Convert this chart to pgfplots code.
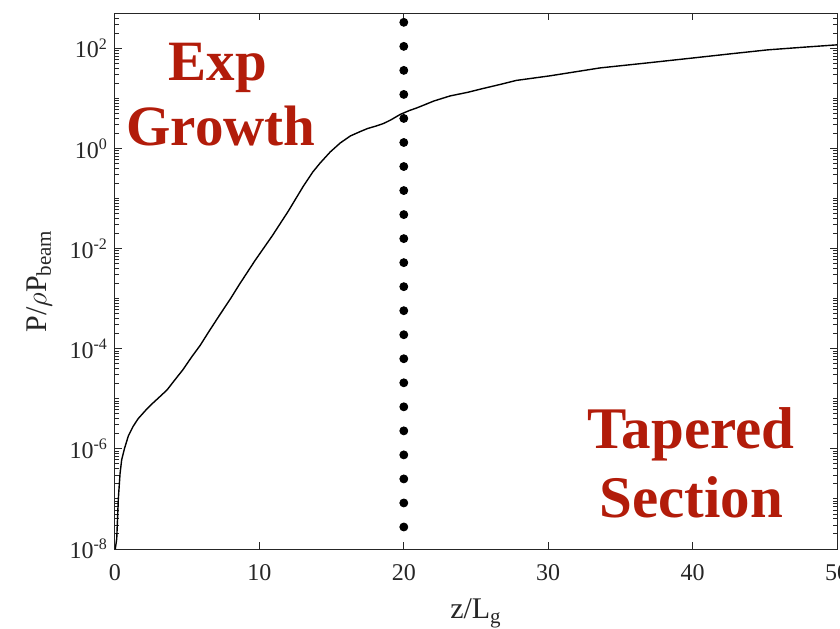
\documentclass[border=0pt]{standalone}
\usepackage{pgfplots}
\pgfplotsset{compat=1.18}
\usepackage{fontspec}
\setmainfont{Liberation Serif}

\definecolor{axgray}{RGB}{38,38,38}
\definecolor{labelred}{RGB}{178,28,10}

% Normalised FEL power along the undulator
\pgfplotstableread{
z      P
0.02   1.0e-8
0.12   1.6e-8
0.23   1.0e-7
0.35   3.2e-7
0.46   6.0e-7
0.65   1.0e-6
0.92   1.8e-6
1.25   2.8e-6
1.60   4.0e-6
2.10   5.8e-6
2.60   8.1e-6
3.10   1.1e-5
3.60   1.5e-5
4.10   2.3e-5
4.70   3.8e-5
5.30   6.8e-5
5.90   1.17e-4
6.50   2.2e-4
7.20   4.5e-4
8.00   1.0e-3
8.60   1.9e-3
9.70   5.8e-3
10.90  1.82e-2
12.00  5.6e-2
13.05  0.178
13.70  0.34
14.20  0.51
14.90  0.85
15.60  1.29
16.30  1.78
17.00  2.19
17.50  2.51
18.10  2.82
18.60  3.16
19.10  3.72
19.75  4.79
20.40  5.75
20.90  6.46
21.50  7.59
22.10  8.91
23.20  11.2
24.40  13.2
25.50  15.8
26.70  19.1
27.80  22.9
30.10  28.2
33.60  40.7
36.90  51.3
40.10  64.6
42.60  77.6
45.20  93.3
47.60  105
50.00  117.5
}\powertable

% Markers of the start of the tapered section
\pgfplotstableread{
z   P
20  331.1
20  109.6
20  36.31
20  12.02
20  3.981
20  1.318
20  0.4365
20  0.1445
20  0.04786
20  0.01585
20  5.248e-3
20  1.738e-3
20  5.754e-4
20  1.905e-4
20  6.310e-5
20  2.089e-5
20  6.918e-6
20  2.291e-6
20  7.586e-7
20  2.512e-7
20  8.318e-8
20  2.754e-8
}\tapertable

\begin{document}
\begin{tikzpicture}
\begin{axis}[
  name=ax, at={(0,0)}, anchor=south west,
  scale only axis, width=361pt, height=267.85pt,
  xmin=0, xmax=50,
  ymode=log, ymin=1e-8, ymax=501.187,
  xtick={0,10,20,30,40,50},
  ytick={1e-8,1e-6,1e-4,1e-2,1,100},
  yticklabels={10\textsuperscript{-8},10\textsuperscript{-6},10\textsuperscript{-4},10\textsuperscript{-2},10\textsuperscript{0},10\textsuperscript{2}},
  minor ytick={2e-8,3e-8,4e-8,5e-8,6e-8,7e-8,8e-8,9e-8,
    1e-7,2e-7,3e-7,4e-7,5e-7,6e-7,7e-7,8e-7,9e-7,
    2e-6,3e-6,4e-6,5e-6,6e-6,7e-6,8e-6,9e-6,
    1e-5,2e-5,3e-5,4e-5,5e-5,6e-5,7e-5,8e-5,9e-5,
    2e-4,3e-4,4e-4,5e-4,6e-4,7e-4,8e-4,9e-4,
    1e-3,2e-3,3e-3,4e-3,5e-3,6e-3,7e-3,8e-3,9e-3,
    2e-2,3e-2,4e-2,5e-2,6e-2,7e-2,8e-2,9e-2,
    1e-1,2e-1,3e-1,4e-1,5e-1,6e-1,7e-1,8e-1,9e-1,
    2,3,4,5,6,7,8,9,
    10,20,30,40,50,60,70,80,90,
    200,300,400,500},
  tick align=inside,
  xtick pos=both, ytick pos=both,
  major tick length=3.5pt, minor tick length=2pt,
  axis line style={axgray, line width=0.5pt},
  every tick/.style={axgray, line width=0.5pt},
  tick label style={font=\fontsize{12}{13}\selectfont, text=axgray},
  xticklabel shift=4pt,
  /pgf/number format/assume math mode=true,
  xlabel={z/L\textsubscript{g}},
  ylabel={P/$\rho$P\textsubscript{beam}},
  label style={font=\fontsize{15}{16}\selectfont, text=axgray},
  xlabel style={yshift=-2.5pt},
  ylabel style={yshift=2pt},
]
\addplot[black, line width=0.7pt] table[x=z, y=P] {\powertable};
\addplot[only marks, mark=*, mark size=2pt, black] table[x=z, y=P] {\tapertable};

\node[anchor=base, text=labelred, font=\fontsize{28.5}{30}\selectfont\bfseries]
  at (rel axis cs:0.1427,0.8755) {Exp};
\node[anchor=base, text=labelred, font=\fontsize{28.5}{30}\selectfont\bfseries]
  at (rel axis cs:0.1468,0.754) {Growth};
\node[anchor=base, text=labelred, font=\fontsize{29.5}{31}\selectfont\bfseries]
  at (rel axis cs:0.798,0.1885) {Tapered};
\node[anchor=base, text=labelred, font=\fontsize{29.5}{31}\selectfont\bfseries]
  at (rel axis cs:0.798,0.0579) {Section};
\end{axis}
\pgfresetboundingbox
\path[use as bounding box] (-57.5pt,-39.5pt) rectangle (362.5pt,274.5pt);
\end{tikzpicture}
\end{document}
